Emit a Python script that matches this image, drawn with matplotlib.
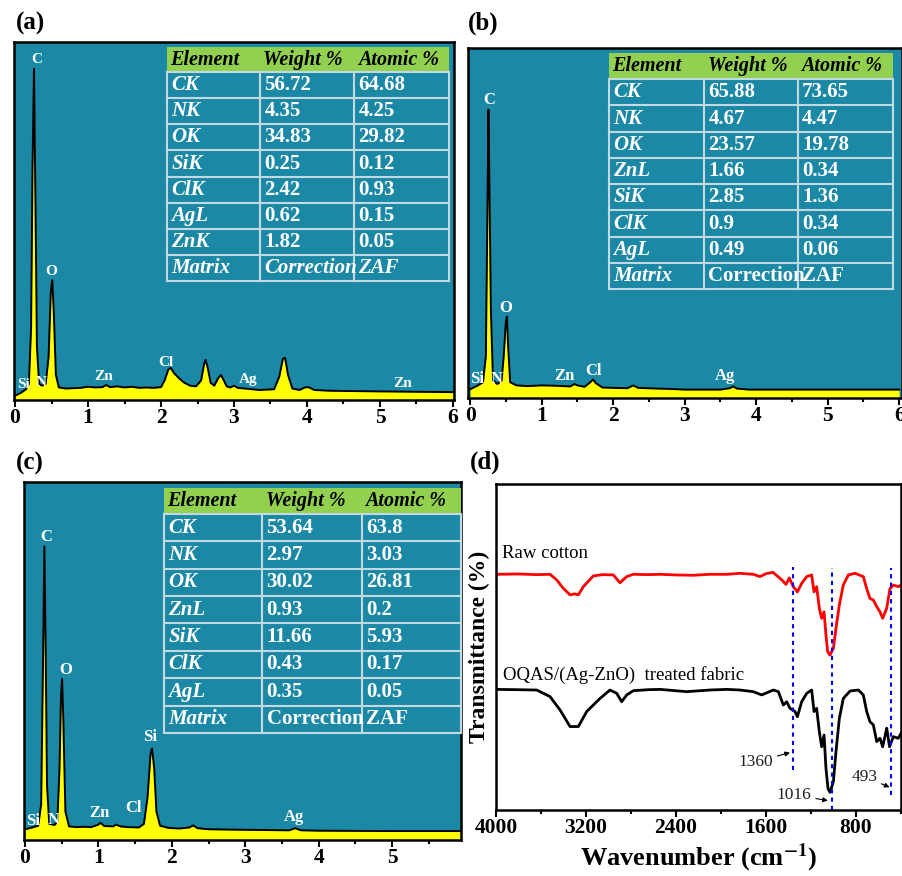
import matplotlib.pyplot as plt
from matplotlib.patches import Rectangle
from matplotlib.lines import Line2D
from matplotlib.ticker import MultipleLocator

plt.rcParams['font.family'] = ['Liberation Serif', 'DejaVu Serif']
plt.rcParams['font.weight'] = 'bold'
plt.rcParams['axes.labelweight'] = 'bold'
plt.rcParams['mathtext.fontset'] = 'stix'

# ---- EDX spectra (energy keV, counts as % of panel height) ----
energy_a = [0.00, 0.08, 0.15, 0.19, 0.22, 0.24, 0.26, 0.28, 0.30, 0.33, 0.37, 0.42, 0.46, 0.49,
            0.51, 0.53, 0.56, 0.60, 0.70, 0.80, 0.90, 1.00, 1.10, 1.20, 1.25, 1.30, 1.40, 1.50,
            1.60, 1.70, 1.80, 1.90, 2.00, 2.05, 2.10, 2.13, 2.18, 2.25, 2.32, 2.40, 2.48, 2.55,
            2.59, 2.61, 2.64, 2.68, 2.73, 2.78, 2.82, 2.86, 2.90, 2.95, 3.00, 3.05, 3.15, 3.25,
            3.35, 3.45, 3.55, 3.62, 3.67, 3.70, 3.74, 3.80, 3.90, 3.97, 4.02, 4.10, 4.30, 4.60,
            5.00, 5.50, 6.00]
counts_a = [1.2, 2.0, 3.0, 4.5, 20.0, 65.0, 92.5, 55.0, 15.0, 4.5, 4.0, 4.5, 12.0, 30.0,
            33.5, 25.0, 7.0, 3.5, 3.2, 3.3, 3.4, 3.7, 3.5, 3.6, 4.2, 3.6, 3.8, 3.5,
            3.7, 3.4, 3.5, 3.4, 3.6, 5.5, 8.5, 9.0, 7.5, 6.0, 4.8, 4.0, 3.8, 5.5,
            10.0, 11.2, 9.0, 4.8, 4.0, 6.0, 7.0, 5.5, 3.8, 3.5, 4.0, 3.4, 3.2, 3.0,
            2.8, 2.9, 3.0, 6.5, 11.5, 11.8, 7.0, 3.2, 2.8, 3.5, 3.6, 2.8, 2.6, 2.5,
            2.4, 2.3, 2.2]

energy_b = [0.00, 0.10, 0.18, 0.22, 0.24, 0.256, 0.27, 0.29, 0.32, 0.38, 0.44, 0.47, 0.50, 0.515,
            0.53, 0.56, 0.65, 0.80, 1.00, 1.20, 1.40, 1.46, 1.50, 1.60, 1.68, 1.72, 1.76, 1.85,
            2.00, 2.20, 2.28, 2.35, 2.60, 2.80, 3.00, 3.50, 3.63, 3.68, 3.73, 3.90, 6.00]
counts_b = [2.5, 3.5, 4.5, 12.0, 50.0, 82.4, 60.0, 25.0, 5.0, 4.0, 5.0, 12.0, 22.0, 23.3,
            15.0, 4.5, 3.6, 3.4, 3.6, 3.5, 3.3, 4.0, 3.6, 3.2, 4.5, 5.3, 4.2, 3.0,
            2.9, 2.8, 3.6, 2.9, 2.7, 2.6, 2.4, 2.4, 2.8, 3.3, 2.7, 2.4, 2.4]

energy_c = [0.00, 0.10, 0.18, 0.22, 0.245, 0.264, 0.28, 0.30, 0.33, 0.40, 0.44, 0.47, 0.49, 0.505,
            0.52, 0.55, 0.60, 0.70, 0.80, 0.90, 1.00, 1.03, 1.08, 1.20, 1.24, 1.30, 1.40, 1.55,
            1.62, 1.67, 1.71, 1.73, 1.76, 1.79, 1.84, 1.95, 2.10, 2.24, 2.29, 2.35, 2.50, 2.80,
            3.20, 3.60, 3.68, 3.76, 4.00, 5.00, 6.00]
counts_c = [3.0, 3.5, 4.0, 10.0, 50.0, 82.0, 55.0, 15.0, 4.5, 4.2, 5.0, 20.0, 40.0, 45.0,
            35.0, 8.0, 3.8, 3.6, 3.7, 3.6, 4.3, 4.8, 3.9, 3.8, 4.3, 3.8, 3.6, 3.5,
            4.5, 12.0, 24.0, 25.6, 20.0, 8.0, 4.0, 3.4, 3.2, 3.5, 4.1, 3.3, 3.0, 2.9,
            2.8, 2.7, 3.3, 2.7, 2.6, 2.5, 2.5]

# peak labels
peak_a = ["C", "O", "Si", "N", "Zn", "Cl", "Ag", "Zn"]
peak_a_x = [0.30, 0.50, 0.11, 0.36, 1.22, 2.07, 3.20, 5.31]
peak_a_y = [95.0, 36.0, 4.4, 4.8, 6.5, 10.4, 5.6, 4.5]
peak_b = ["C", "O", "Si", "N", "Zn", "Cl", "Ag"]
peak_b_x = [0.26, 0.50, 0.09, 0.37, 1.32, 1.72, 3.57]
peak_b_y = [85.0, 25.7, 5.4, 5.4, 6.2, 7.6, 6.2]
peak_c = ["C", "O", "Si", "Si", "N", "Zn", "Cl", "Ag"]
peak_c_x = [0.29, 0.55, 1.70, 0.11, 0.39, 1.02, 1.48, 3.66]
peak_c_y = [84.7, 47.6, 28.8, 5.2, 5.6, 7.6, 8.8, 6.5]

# tables
header = ["Element", "Weight %", "Atomic %"]
elem_a = ["CK", "NK", "OK", "SiK", "ClK", "AgL", "ZnK", "Matrix"]
weight_a = ["56.72", "4.35", "34.83", "0.25", "2.42", "0.62", "1.82", "Correction"]
atomic_a = ["64.68", "4.25", "29.82", "0.12", "0.93", "0.15", "0.05", "ZAF"]
elem_b = ["CK", "NK", "OK", "ZnL", "SiK", "ClK", "AgL", "Matrix"]
weight_b = ["65.88", "4.67", "23.57", "1.66", "2.85", "0.9", "0.49", "Correction"]
atomic_b = ["73.65", "4.47", "19.78", "0.34", "1.36", "0.34", "0.06", "ZAF"]
elem_c = ["CK", "NK", "OK", "ZnL", "SiK", "ClK", "AgL", "Matrix"]
weight_c = ["53.64", "2.97", "30.02", "0.93", "11.66", "0.43", "0.35", "Correction"]
atomic_c = ["63.8", "3.03", "26.81", "0.2", "5.93", "0.17", "0.05", "ZAF"]

# ---- FTIR (wavenumber, transmittance a.u.) ----
raw_wn = [4000, 3800, 3640, 3520, 3461, 3402, 3342, 3300, 3268, 3224, 3135, 3050, 2957, 2898,
          2838, 2779, 2650, 2542, 2400, 2246, 2100, 1949, 1831, 1713, 1653, 1600, 1538, 1460,
          1422, 1393, 1357, 1321, 1283, 1238, 1194, 1173, 1150, 1126, 1105, 1084, 1067, 1052,
          1031, 1001, 978, 948, 913, 868, 809, 735, 705, 676, 646, 616, 587, 563, 527, 498,
          468, 424, 400]
raw_t = [72.3, 72.4, 72.2, 72.3, 70.6, 68.0, 66.0, 66.3, 66.0, 68.5, 71.8, 72.2, 72.1, 69.7,
         71.6, 72.3, 72.2, 72.3, 72.1, 72.0, 72.3, 72.3, 72.6, 72.3, 71.6, 72.5, 72.9, 70.6,
         69.2, 71.2, 68.5, 66.9, 69.5, 71.6, 72.1, 66.9, 68.5, 61.9, 58.8, 60.8, 53.7, 48.6,
         47.5, 49.6, 55.7, 62.9, 69.0, 72.1, 72.6, 71.6, 67.9, 64.9, 64.4, 62.4, 60.8, 58.8,
         61.9, 67.9, 69.0, 68.5, 69.0]
treated_wn = [4000, 3800, 3638, 3520, 3431, 3342, 3268, 3194, 3076, 2987, 2927, 2883, 2838, 2779,
              2650, 2542, 2305, 2100, 1949, 1831, 1713, 1639, 1535, 1490, 1446, 1416, 1387, 1342,
              1321, 1283, 1238, 1194, 1173, 1150, 1126, 1105, 1084, 1067, 1049, 1031, 1001, 978,
              948, 913, 853, 779, 735, 705, 676, 646, 616, 587, 563, 527, 502, 468, 424, 400]
treated_t = [37.0, 36.9, 36.8, 34.8, 30.7, 25.6, 25.6, 30.2, 34.2, 36.8, 35.8, 33.2, 35.3, 36.6,
             36.9, 37.0, 36.3, 36.8, 37.0, 36.8, 36.3, 35.3, 36.8, 36.3, 32.2, 33.2, 31.2, 30.2,
             28.6, 33.2, 35.8, 36.8, 30.2, 31.2, 24.0, 19.4, 23.0, 12.8, 6.6, 5.4, 8.7, 17.9,
             28.1, 34.2, 36.5, 36.8, 35.3, 30.2, 27.1, 26.1, 21.0, 22.0, 19.4, 25.1, 19.4, 22.5,
             22.0, 23.5]
mark_wn = [1360, 1016, 493]
mark_top = [74.6, 74.2, 74.2]
mark_bot = [12.3, 0.0, 4.6]
mark_label = ["1360", "1016", "493"]
mark_text_wn = [1535, 1194, 611]
mark_text_t = [14.8, 4.6, 10.2]
mark_arrow_t = [17.6, 2.9, 7.0]
mark_arrow_wn = [1387, 1050, 502]

W, H = 903, 876
fig = plt.figure(figsize=(W / 100, H / 100), dpi=100)

TEAL = '#1B88A6'
GREEN = '#92D050'
GRID = '#C3D9E1'


def px_axes(l, t, r, b):
    return fig.add_axes([l / W, 1 - b / H, (r - l) / W, (b - t) / H])


def edx(ax, e, c, xlim, names, nx, ny, fs):
    ax.set_facecolor(TEAL)
    ax.fill_between(e, 0, c, color='#FFFF00', lw=0)
    ax.plot(e, c, color='k', lw=1.4)
    ax.set_xlim(*xlim)
    ax.set_ylim(0, 100)
    ax.set_yticks([])
    ax.xaxis.set_major_locator(MultipleLocator(1))
    ax.xaxis.set_minor_locator(MultipleLocator(0.5))
    ax.xaxis.set_major_formatter(lambda v, p: f"{v:.0f}")
    ax.tick_params(axis='x', which='major', direction='out', length=5, width=1.5,
                   labelsize=15.5, pad=1)
    ax.tick_params(axis='x', which='minor', direction='out', length=3, width=1.5)
    for s in ax.spines.values():
        s.set_linewidth(1.8)
    for s, x, y in zip(names, nx, ny):
        ax.text(x, y, s, color='white', fontsize=fs, ha='center', va='center')


def table(ax, c1, c2, c3, xs, ytop, yhead, ybot, last_italic):
    x0, xa, xb, x1 = xs
    ax.add_patch(Rectangle((x0, yhead), x1 - x0, ytop - yhead, transform=ax.transAxes,
                           facecolor=GREEN, edgecolor='none', zorder=5, clip_on=False))
    for x, h in zip([x0, xa, xb], header):
        ax.text(x + 0.008, (ytop + yhead) / 2, h, style='italic', color='k', fontsize=14.5,
                va='center', transform=ax.transAxes, zorder=6)
    n = len(c1)
    rh = (yhead - ybot) / n
    for i in range(n + 1):
        y = yhead - i * rh
        ax.add_line(Line2D([x0, x1], [y, y], transform=ax.transAxes, color=GRID, lw=1.5,
                           zorder=6, clip_on=False))
    for x in xs:
        ax.add_line(Line2D([x, x], [yhead, ybot], transform=ax.transAxes, color=GRID, lw=1.5,
                           zorder=6, clip_on=False))
    cells = [xs[0:2], xs[1:3], xs[2:4]]
    for i in range(n):
        yc = yhead - (i + 0.5) * rh
        for j, col in enumerate([c1, c2, c3]):
            it = (j == 0) or (i == n - 1 and last_italic)
            t = ax.text(cells[j][0] + 0.01, yc, col[i], style='italic' if it else 'normal',
                        color='white', fontsize=15, va='center', transform=ax.transAxes,
                        zorder=7)
            clip = Rectangle((cells[j][0], yc - rh / 2), cells[j][1] - cells[j][0], rh,
                             transform=ax.transAxes, visible=False)
            ax.add_patch(clip)
            t.set_clip_path(clip)


# (a)
ax_a = px_axes(14, 42, 454, 400)
edx(ax_a, energy_a, counts_a, (-0.014, 6.014), peak_a, peak_a_x, peak_a_y, 11)
table(ax_a, elem_a, weight_a, atomic_a, [0.348, 0.559, 0.773, 0.989], 0.986, 0.916, 0.332, True)

# (b)
ax_b = px_axes(468, 48, 902, 398)
edx(ax_b, energy_b, counts_b, (-0.03, 6.04), peak_b, peak_b_x, peak_b_y, 12)
table(ax_b, elem_b, weight_b, atomic_b, [0.325, 0.544, 0.760, 0.979], 0.986, 0.911, 0.311, False)

# (c)
ax_c = px_axes(24, 482, 461, 840)
edx(ax_c, energy_c, counts_c, (-0.014, 5.94), peak_c, peak_c_x, peak_c_y, 12)
table(ax_c, elem_c, weight_c, atomic_c, [0.320, 0.545, 0.773, 1.0], 0.983, 0.911, 0.299, False)

# (d)
ax_d = px_axes(496, 484, 901, 810)
ax_d.plot(raw_wn, raw_t, color='#FF0000', lw=2)
ax_d.plot(treated_wn, treated_t, color='k', lw=2)
for wn, yt, yb in zip(mark_wn, mark_top, mark_bot):
    ax_d.plot([wn, wn], [yb, yt], color='#0000FF', ls=(0, (2, 2)), lw=1.5)
for s, tx, ty, ax_, ay in zip(mark_label, mark_text_wn, mark_text_t, mark_arrow_wn, mark_arrow_t):
    ax_d.annotate(s, xy=(ax_, ay), xytext=(tx, ty), ha='right', va='center', fontsize=12.5,
                  fontweight='normal', color='#222222',
                  arrowprops=dict(arrowstyle='-|>', color='k', lw=0.8, mutation_scale=7,
                                  shrinkA=1, shrinkB=0))
ax_d.text(3950, 78.8, "Raw cotton", fontsize=13.5, fontweight='normal', va='center')
ax_d.text(3935, 41.5, "OQAS/(Ag-ZnO)  treated fabric", fontsize=13.5, fontweight='normal',
          va='center')
ax_d.set_xlim(4000, 400)
ax_d.set_ylim(0, 100)
ax_d.set_yticks([])
ax_d.xaxis.set_major_locator(MultipleLocator(800))
ax_d.xaxis.set_minor_locator(MultipleLocator(400))
ax_d.tick_params(axis='x', which='major', direction='out', length=5, width=1.5,
                 labelsize=15.5, pad=1)
ax_d.tick_params(axis='x', which='minor', direction='out', length=3, width=1.5)
for s in ax_d.spines.values():
    s.set_linewidth(1.8)
ax_d.set_xlabel(r"Wavenumber (cm$^{\mathbf{-1}}$)", fontsize=19, fontweight='bold', labelpad=2)
ax_d.set_ylabel("Transmittance (%)", fontsize=17, fontweight='bold', labelpad=4)

# panel letters
for s, x, y in [("(a)", 16, 23), ("(b)", 468, 23), ("(c)", 16, 463), ("(d)", 470, 462)]:
    fig.text(x / W, 1 - y / H, s, fontsize=18, va='center', ha='left')

fig.savefig("out.png", dpi=100)
